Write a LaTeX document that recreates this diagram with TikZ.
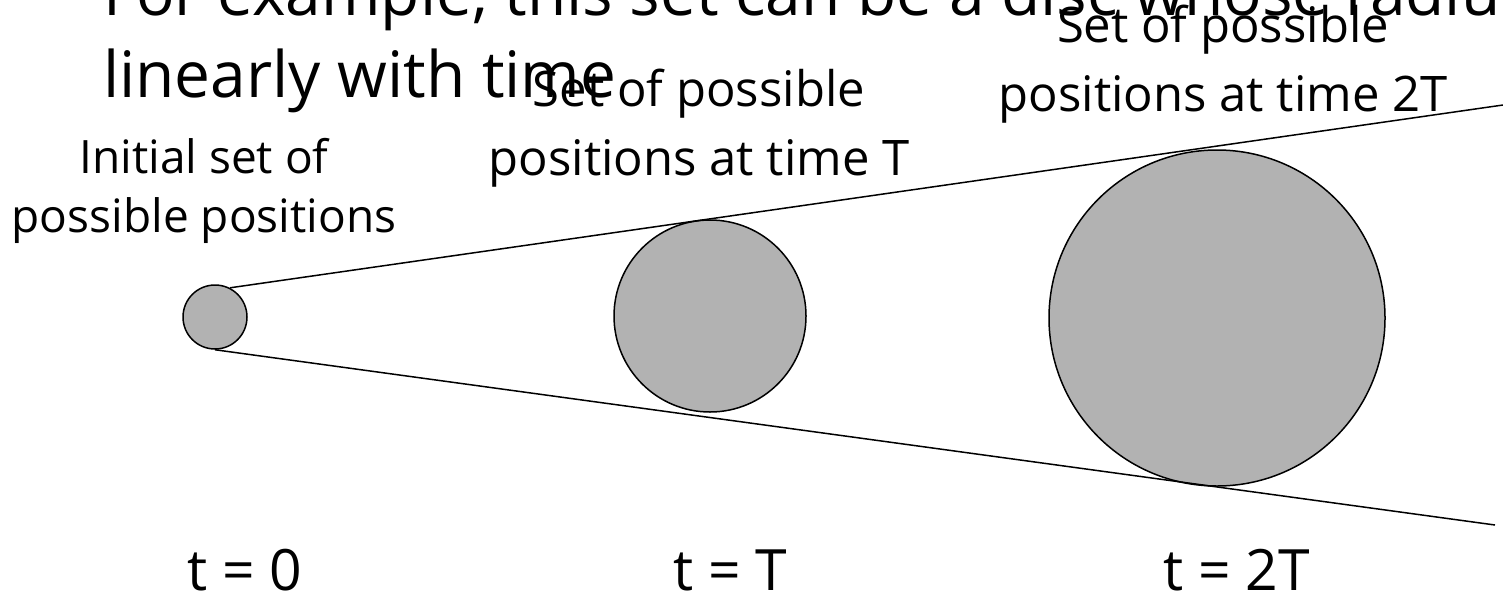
\documentclass[tikz,border=0pt]{standalone}
\usepackage{fontspec}
\setmainfont{Open Sans}
\usetikzlibrary{positioning}

\begin{document}
\begin{tikzpicture}[
		x=1pt, y=-1pt,
		disc/.style={draw, circle, fill=black!30, line width=1.5pt, inner sep=0pt},
		bound/.style={line width=1.5pt},
		head/.style={anchor=base west, inner sep=0pt, font=\fontsize{64}{82}\selectfont},
		lbl/.style={align=center, anchor=base, inner sep=0pt, font=\fontsize{49}{69}\selectfont},
		tlbl/.style={anchor=base west, inner sep=0pt, font=\fontsize{57}{64}\selectfont}
		]
		\useasboundingbox (0,0) rectangle (1503,595);
		% title text (cut off at the top)
		\node[head] (title) at (103,15) {For example, this set can be a disc whose radius};
		\node[head] (title2) at (103,97) {linearly with time};
		% discs
		\node[disc, minimum size=64pt] (d0) at (215,317) {};
		\node[disc, minimum size=192pt] (d1) at (710,316) {};
		\node[disc, minimum size=336pt] (d2) at (1217,318) {};
		\coordinate (up) at (1503,105);
		\coordinate (lo) at (1495,525);
		\draw[bound] (d0.63) -- (up);
		\draw[bound] (d0.south) -- (lo);
		% labels
		\node[lbl, font=\fontsize{46}{59}\selectfont] (l0) at (204,232) {Initial set of\\possible positions};
		\node[lbl] (l1) at (699,175) {Set of possible\\positions at time T};
		\node[lbl] (l2) at (1223,111) {Set of possible\\positions at time 2T};
		\node[tlbl] (t0) at (187,590) {t = 0};
		\node[tlbl] (t1) at (673,590) {t = T};
		\node[tlbl] (t2) at (1163,590) {t = 2T};
	\end{tikzpicture}
\end{document}
